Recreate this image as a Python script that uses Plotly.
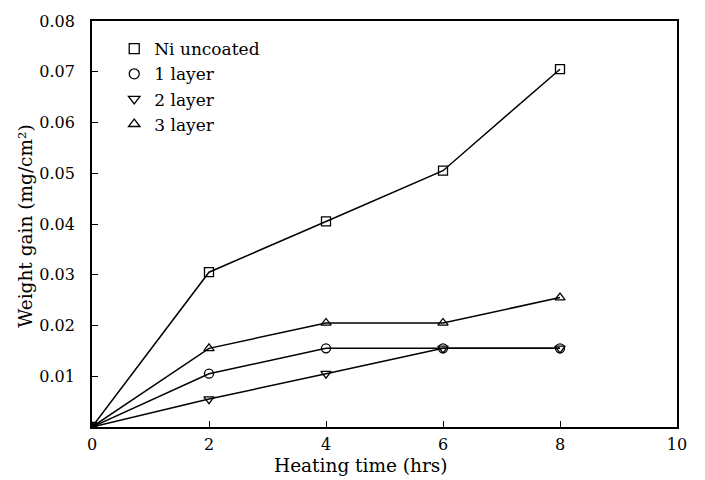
import plotly.graph_objects as go

hours = [0, 2, 4, 6, 8]
ni_uncoated = [0, 0.0305, 0.0405, 0.0505, 0.0705]
layer1 = [0, 0.0105, 0.0155, 0.0155, 0.0155]
layer2 = [0, 0.0055, 0.0105, 0.0155, 0.0155]
layer3 = [0, 0.0155, 0.0205, 0.0205, 0.0255]

series = [
    ("Ni uncoated", ni_uncoated, "square-open"),
    ("1 layer", layer1, "circle-open"),
    ("2 layer", layer2, "triangle-down-open"),
    ("3 layer", layer3, "triangle-up-open"),
]

FONT = "DejaVu Serif"
FS = 16
TFS = 18.5
fig = go.Figure()
for name, vals, sym in series:
    fig.add_trace(go.Scatter(
        x=hours, y=vals, mode="lines+markers", showlegend=False,
        line=dict(color="black", width=1.5),
        marker=dict(symbol=sym, size=9, color="black", line=dict(width=1.3, color="black")),
    ))
for name, vals, sym in series:
    fig.add_trace(go.Scatter(
        x=[None], y=[None], mode="markers", name=name,
        marker=dict(symbol=sym, size=10, color="black", line=dict(width=1.3, color="black")),
    ))

axis_common = dict(
    showline=True, linecolor="black", linewidth=1.8, mirror=True,
    ticks="inside", ticklen=6, tickcolor="black", tickwidth=1,
    showgrid=False, zeroline=False,
    tickfont=dict(family=FONT, size=FS, color="black"),
)
fig.update_xaxes(range=[0, 10], tickvals=[0, 2, 4, 6, 8, 10], ticklabelstandoff=2, **axis_common)
fig.update_yaxes(range=[0, 0.08], tickvals=[0.01, 0.02, 0.03, 0.04, 0.05, 0.06, 0.07, 0.08],
                 ticktext=["0.01", "0.02", "0.03", "0.04", "0.05", "0.06", "0.07", "0.08"],
                 ticklabelstandoff=12,
                 **axis_common)

fig.add_annotation(text="Heating time (hrs)", xref="paper", yref="paper", x=0.46, y=-0.095,
                   xanchor="center", yanchor="middle", showarrow=False,
                   font=dict(family=FONT, size=TFS, color="black"))
fig.add_annotation(text="Weight gain (mg/cm²)", xref="paper", yref="paper", x=-0.115, y=0.495,
                   xanchor="center", yanchor="middle", showarrow=False, textangle=-90,
                   font=dict(family=FONT, size=TFS, color="black"))

fig.update_layout(
    width=705, height=480,
    margin=dict(l=92, r=28, t=19, b=53),
    plot_bgcolor="white", paper_bgcolor="white",
    legend=dict(x=0.038, y=0.975, xanchor="left", yanchor="top",
                font=dict(family=FONT, size=17, color="black"),
                bgcolor="rgba(0,0,0,0)", itemwidth=30, tracegroupgap=0),
)
fig.write_html("out.html")
